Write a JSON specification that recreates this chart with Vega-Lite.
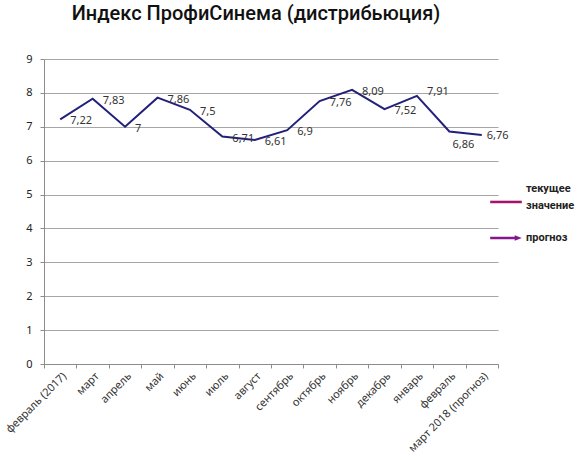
{
  "$schema": "https://vega.github.io/schema/vega-lite/v6.json",
  "width": 454,
  "height": 305,
  "autosize": {"type": "none"},
  "padding": {"left": 44, "top": 59, "right": 82, "bottom": 96},
  "background": "white",
  "title": {
    "text": "Индекс ПрофиСинема (дистрибьюция)",
    "font": "Roboto",
    "fontSize": 20,
    "fontWeight": 500,
    "color": "#111111",
    "anchor": "middle",
    "dx": -15,
    "offset": 29
  },
  "config": {
    "view": {"stroke": null},
    "font": "Noto Sans",
    "style": {"guide-label": {"lineHeight": 17}}
  },
  "data": {
    "values": [
      {"month": "февраль (2017)", "value": 7.22, "label": "7,22"},
      {"month": "март", "value": 7.83, "label": "7,83"},
      {"month": "апрель", "value": 7.0, "label": "7"},
      {"month": "май", "value": 7.86, "label": "7,86"},
      {"month": "июнь", "value": 7.5, "label": "7,5"},
      {"month": "июль", "value": 6.71, "label": "6,71"},
      {"month": "август", "value": 6.61, "label": "6,61"},
      {"month": "сентябрь", "value": 6.9, "label": "6,9"},
      {"month": "октябрь", "value": 7.76, "label": "7,76"},
      {"month": "ноябрь", "value": 8.09, "label": "8,09"},
      {"month": "декабрь", "value": 7.52, "label": "7,52"},
      {"month": "январь", "value": 7.91, "label": "7,91"},
      {"month": "февраль", "value": 6.86, "label": "6,86"},
      {"month": "март 2018 (прогноз)", "value": 6.76, "label": "6,76"}
    ]
  },
  "encoding": {
    "x": {
      "field": "month",
      "type": "nominal",
      "sort": null,
      "bandPosition": 0.5,
      "scale": {"type": "band", "paddingInner": 0, "paddingOuter": 0},
      "axis": {
        "title": null,
        "tickBand": "extent",
        "grid": false,
        "domainColor": "#8c8c8c",
        "tickColor": "#8c8c8c",
        "tickSize": 4,
        "labelAngle": -45,
        "labelAlign": "right",
        "labelBaseline": "top",
        "labelFontSize": 11,
        "labelColor": "#333333",
        "labelPadding": 2
      }
    },
    "y": {
      "field": "value",
      "type": "quantitative",
      "scale": {"domain": [0, 9], "nice": false},
      "axis": {
        "title": null,
        "values": [0, 1, 2, 3, 4, 5, 6, 7, 8, 9],
        "grid": true,
        "gridColor": "#a6a6a6",
        "domainColor": "#8c8c8c",
        "tickColor": "#8c8c8c",
        "tickSize": 4,
        "labelFontSize": 11,
        "labelColor": "#222222",
        "labelPadding": 8,
        "labelBaseline": "middle"
      }
    }
  },
  "layer": [
    {
      "mark": {"type": "line", "color": "#22217a", "strokeWidth": 2}
    },
    {
      "mark": {"type": "point", "filled": true, "opacity": 0},
      "encoding": {
        "color": {
          "datum": "текущее значение",
          "scale": {"domain": ["текущее значение", "прогноз"], "range": ["#a3136a", "#84178c"]},
          "legend": {
            "title": null,
            "orient": "none",
            "legendX": 446,
            "legendY": 114,
            "symbolOpacity": 1,
            "symbolSize": 1000,
            "symbolStrokeWidth": 0,
            "labelFont": "Roboto",
            "labelFontWeight": "bold",
            "labelFontSize": 11,
            "labelColor": "#222222",
            "labelOffset": 4,
            "rowPadding": 11,
            "labelExpr": "datum.label == 'текущее значение' ? ['текущее', 'значение'] : datum.label"
          }
        },
        "shape": {
          "datum": "текущее значение",
          "scale": {
            "domain": ["текущее значение", "прогноз"],
            "range": [
              "M-1,0.74H1V0.9H-1Z",
              "M-1,-0.08H0.55V-0.18L1,0L0.55,0.18V0.08H-1Z"
            ]
          }
        }
      }
    },
    {
      "transform": [{"filter": "datum.month != 'февраль' && datum.month != 'март 2018 (прогноз)' && datum.month != 'январь'"}],
      "mark": {"type": "text", "align": "left", "baseline": "middle", "dx": 10, "dy": 2, "fontSize": 11, "color": "#333333"},
      "encoding": {"text": {"field": "label"}}
    },
    {
      "transform": [{"filter": "datum.month == 'январь'"}],
      "mark": {"type": "text", "align": "left", "baseline": "middle", "dx": 10, "dy": -4, "fontSize": 11, "color": "#333333"},
      "encoding": {"text": {"field": "label"}}
    },
    {
      "transform": [{"filter": "datum.month == 'февраль'"}],
      "mark": {"type": "text", "align": "center", "baseline": "middle", "dx": 14, "dy": 13, "fontSize": 11, "color": "#333333"},
      "encoding": {"text": {"field": "label"}}
    },
    {
      "transform": [{"filter": "datum.month == 'март 2018 (прогноз)'"}],
      "mark": {"type": "text", "align": "left", "baseline": "middle", "dx": 5, "dy": 1, "fontSize": 11, "color": "#333333"},
      "encoding": {"text": {"field": "label"}}
    }
  ]
}
